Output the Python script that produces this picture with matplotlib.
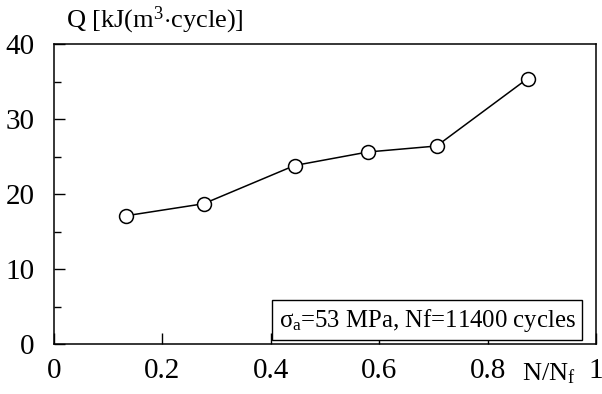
import numpy as np
import matplotlib.pyplot as plt
from matplotlib.ticker import MultipleLocator

plt.rcParams['font.family'] = ['Liberation Serif', 'DejaVu Serif']
plt.rcParams['mathtext.fontset'] = 'custom'
plt.rcParams['mathtext.rm'] = 'Liberation Serif'
plt.rcParams['mathtext.it'] = 'Liberation Serif'

# data
n_ratio = [0.133, 0.276, 0.444, 0.579, 0.706, 0.874]
q_values = [17.1, 18.7, 23.8, 25.6, 26.4, 35.4]

fig = plt.figure(figsize=(6.02, 3.94), dpi=100)
ax = fig.add_axes([54 / 602, 1 - 344 / 394, 542 / 602, 300 / 394])

ax.plot(n_ratio, q_values, color='black', lw=1.1, marker='o', ms=10,
        mfc='white', mec='black', mew=1.1)

ax.set_xlim(0, 1)
ax.set_ylim(0, 40)
ax.yaxis.set_major_locator(MultipleLocator(10))
ax.yaxis.set_minor_locator(MultipleLocator(5))
ax.set_xticks([0, 0.2, 0.4, 0.6, 0.8, 1.0])
ax.set_xticklabels(['0', '0.2', '0.4', '0.6', '0.8', '1'])
ax.tick_params(axis='both', which='major', direction='in', length=8,
               width=1, labelsize=21)
ax.tick_params(axis='y', which='minor', direction='in', length=5, width=1)
ax.tick_params(axis='x', pad=10)
ax.tick_params(axis='y', pad=14)
for s in ax.spines.values():
    s.set_linewidth(1.1)

fig.text(66 / 602, 1 - 20 / 394, r'Q [kJ(m$^3$$\cdot$cycle)]', fontsize=19,
         va='center', ha='left')
fig.text(522 / 602, 1 - 374 / 394, r'N/N$_\mathregular{f}$', fontsize=19,
         va='center', ha='left')

ax.text(0.962, 0.08, r'$\sigma_\mathregular{a}$=53 MPa, Nf=11400 cycles',
        transform=ax.transAxes, ha='right', va='center', fontsize=17.8,
        bbox=dict(boxstyle='square,pad=0.28', fc='white', ec='black', lw=1))

fig.savefig('out.png', dpi=100)
